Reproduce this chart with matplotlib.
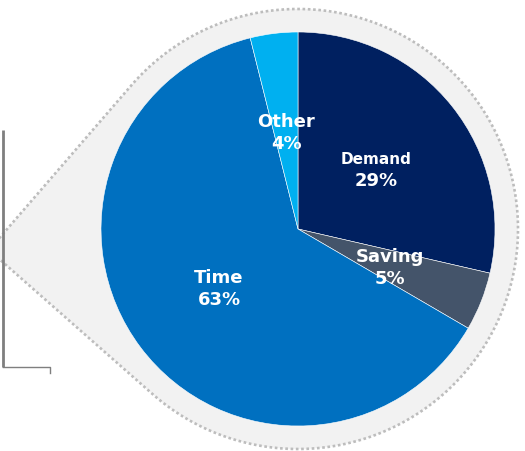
import numpy as np
import matplotlib
matplotlib.use("Agg")
import matplotlib.pyplot as plt
from matplotlib.patches import Polygon

# Data
categories = ["Demand", "Saving", "Time", "Other"]
shares = [28.6, 4.8, 62.7, 3.9]
pct_labels = ["29%", "5%", "63%", "4%"]
colors = ["#002060", "#44546A", "#0070C0", "#00B0F0"]

W, H = 525, 451
fig = plt.figure(figsize=(W / 100, H / 100), dpi=100)
ax = fig.add_axes([0, 0, 1, 1])
ax.set_xlim(0, W)
ax.set_ylim(0, H)
ax.set_aspect("equal")
ax.axis("off")

def Y(py):
    return H - py

cx, cy = 298, Y(229)
r_pie = 197
r_bg = 220
tip = np.array([-11.0, Y(250)])

# Callout background: circle plus a pointer towards the left
C = np.array([cx, cy])
d = tip - C
dist = np.hypot(*d)
base = np.arctan2(d[1], d[0])
off = np.arccos(r_bg / dist)
a1 = base + off
a2 = base - off + 2 * np.pi
angs = np.linspace(a1, a2, 400)
arc = np.column_stack([cx + r_bg * np.cos(angs), cy + r_bg * np.sin(angs)])
pts = np.vstack([tip, arc, tip])
ax.add_patch(Polygon(pts, closed=True, facecolor="#F2F2F2", edgecolor="#BDBDBD",
                     linewidth=1.9, linestyle=(0, (1, 1)), zorder=1))

# Bracket lines on the left
ax.plot([3, 3], [Y(130), Y(367)], color="#7F7F7F", lw=2.0, zorder=3, solid_capstyle="butt")
ax.plot([3, 50, 50], [Y(367), Y(367), Y(373)], color="#7F7F7F", lw=1.0, zorder=3)

# Pie
wedges, _ = ax.pie(shares, colors=colors, startangle=90, counterclock=False,
                   center=(cx, cy), radius=r_pie, frame=True,
                   wedgeprops=dict(edgecolor="white", linewidth=0.4))
for w in wedges:
    w.set_zorder(2)
ax.set_xlim(0, W)
ax.set_ylim(0, H)
ax.axis("off")

# Labels: (x, y of name line, y of percent line)
label_pos = [(376, 159, 181), (390, 257, 279), (219, 278, 300), (286, 122, 144)]
name_size = [11, 13, 13, 13]
for name, pct, (px, py1, py2), fs in zip(categories, pct_labels, label_pos, name_size):
    ax.text(px, Y(py1), name, ha="center", va="center", color="white",
            fontsize=fs, fontweight="bold", family="DejaVu Sans", zorder=4)
    ax.text(px, Y(py2), pct, ha="center", va="center", color="white",
            fontsize=13, fontweight="bold", family="DejaVu Sans", zorder=4)

fig.savefig("out.png", dpi=100)
